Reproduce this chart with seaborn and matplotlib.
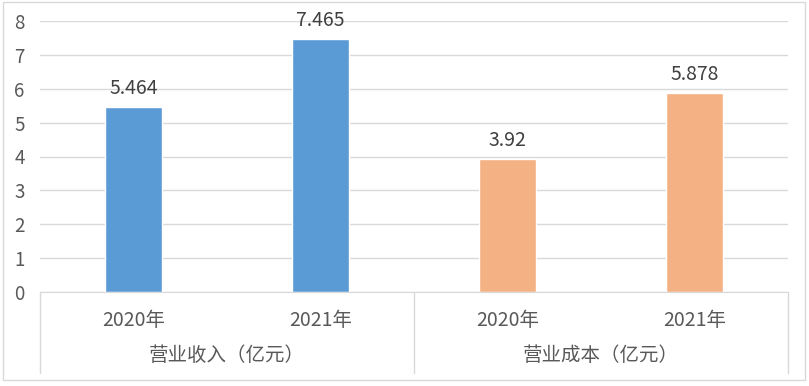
import pandas as pd
import seaborn as sns
import matplotlib.pyplot as plt
from matplotlib.patches import Rectangle

groups = ["营业收入（亿元）", "营业收入（亿元）", "营业成本（亿元）", "营业成本（亿元）"]
years = ["2020年", "2021年", "2020年", "2021年"]
values = [5.464, 7.465, 3.92, 5.878]
value_labels = ["5.464", "7.465", "3.92", "5.878"]

df = pd.DataFrame({"group": groups, "year": years, "value": values})
df["key"] = df["group"] + df["year"]

sns.set_style("white")
plt.rcParams["font.family"] = ["Noto Sans CJK SC", "DejaVu Sans"]
text_color = "#595959"
label_color = "#404040"
grid_color = "#D9D9D9"

W, H = 809, 386
fig = plt.figure(figsize=(W / 100, H / 100), dpi=100)
ax = fig.add_axes([40 / W, (H - 292) / H, 748 / W, 271 / H])

sns.barplot(data=df, x="key", y="value", hue="group", dodge=False,
            palette=["#5B9BD5", "#F4B183"], width=0.31, legend=False, ax=ax,
            saturation=1)

ax.set_ylim(0, 8)
ax.set_yticks(range(0, 9))
ax.set_xlim(-0.5, 3.5)
ax.yaxis.grid(True, color=grid_color, linewidth=1)
ax.set_axisbelow(True)
for s in ["top", "right", "left"]:
    ax.spines[s].set_visible(False)
ax.spines["bottom"].set_color(grid_color)
ax.tick_params(axis="y", length=0, pad=11, labelsize=13.5, labelcolor=text_color)
ax.set_xticks([])
ax.set_xlabel("")
ax.set_ylabel("")

for i, (v, lab) in enumerate(zip(values, value_labels)):
    ax.annotate(lab, (i, v), xytext=(0, 6), textcoords="offset points",
                ha="center", va="bottom", fontsize=14, color=label_color)

# multi-level category axis
for i, y in enumerate(years):
    ax.text(i, -0.105, y, transform=ax.get_xaxis_transform(), ha="center",
            va="center", fontsize=14, color=text_color)
for gi, g in enumerate(["营业收入（亿元）", "营业成本（亿元）"]):
    ax.text(gi * 2 + 0.5, -0.235, g, transform=ax.get_xaxis_transform(),
            ha="center", va="center", fontsize=14, color=text_color)
for xv in [-0.5, 1.5, 3.5]:
    ax.plot([xv, xv], [0, -0.30], transform=ax.get_xaxis_transform(),
            color=grid_color, linewidth=1, clip_on=False)

fig.patches.append(Rectangle((3 / W, (H - 380) / H), 802 / W, 378 / H,
                             transform=fig.transFigure, fill=False,
                             edgecolor=grid_color, linewidth=1))

fig.savefig("out.png", dpi=100)
